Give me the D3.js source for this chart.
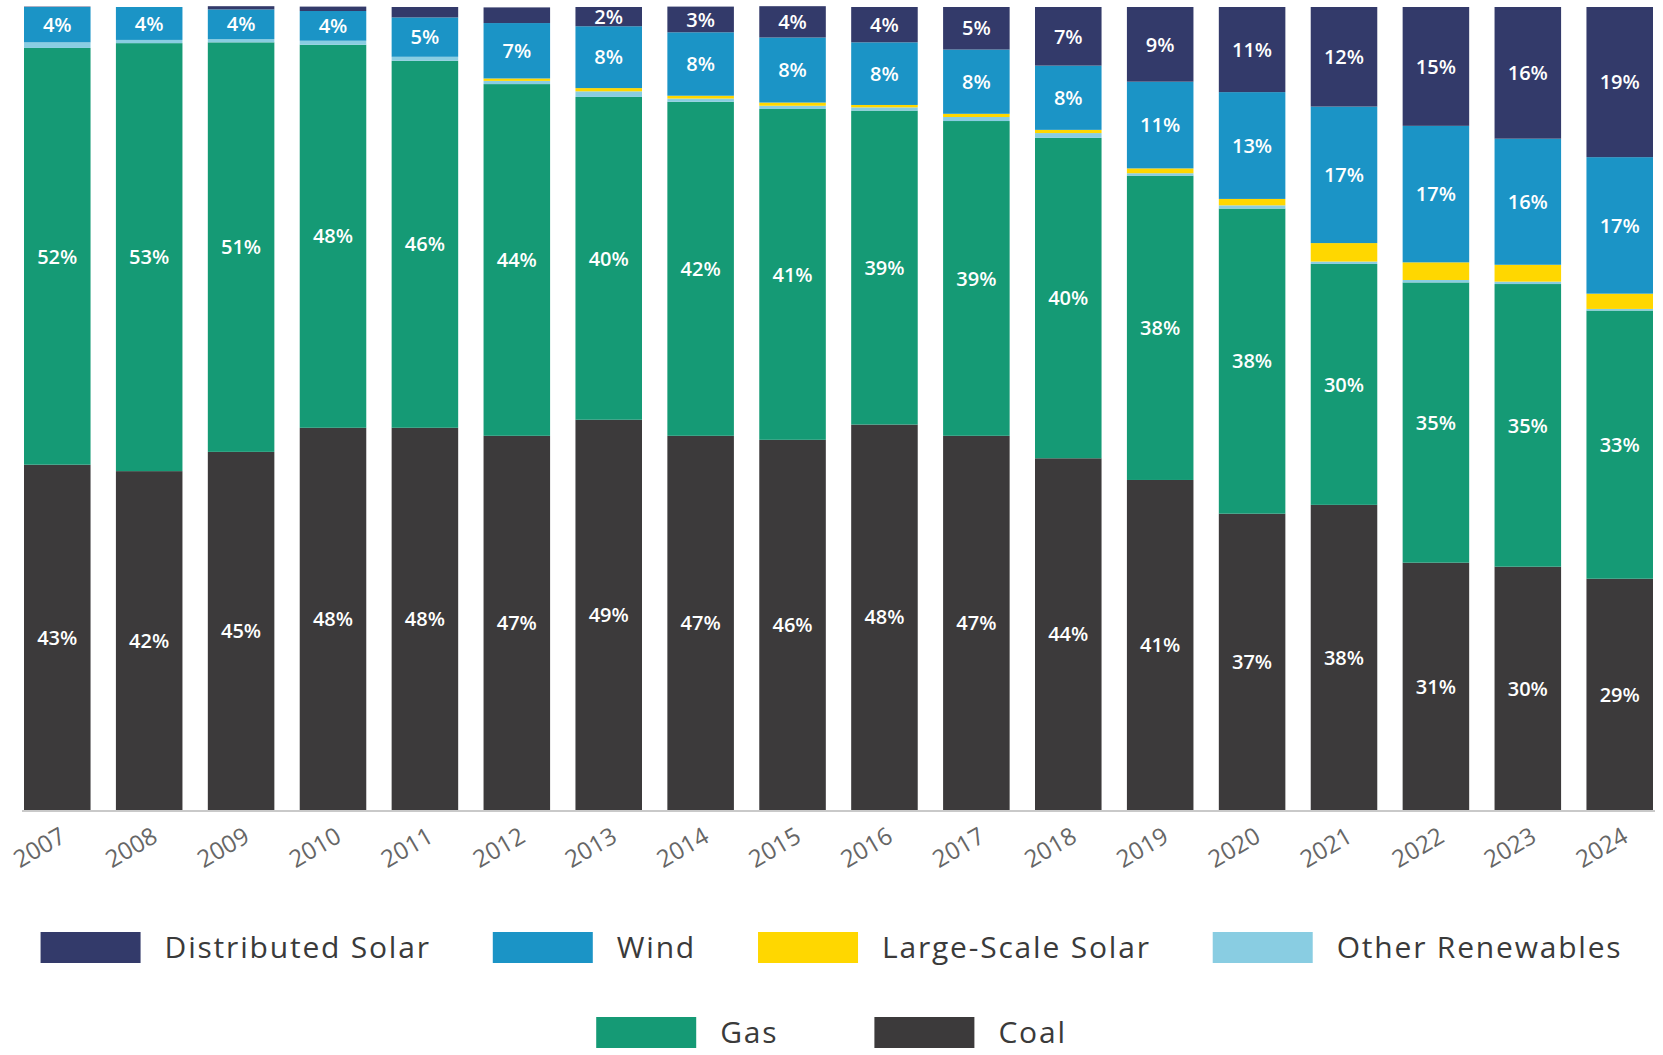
<!DOCTYPE html>
<html>
<head>
<meta charset="utf-8">
<script src="https://cdn.jsdelivr.net/npm/d3@7"></script>
<style>
  body { margin: 0; background: #fff; }
  text { font-family: "Open Sans", sans-serif; }
</style>
</head>
<body>
<svg id="chart"></svg>
<script>
// data (share of generation, %)
var years = ["2007","2008","2009","2010","2011","2012","2013","2014","2015","2016","2017","2018","2019","2020","2021","2022","2023","2024"];
var distributedSolar = [0.05, 0, 0.4, 0.55, 1.3, 1.95, 2.4, 3.2, 3.9, 4.4, 5.3, 7.3, 9.3, 10.6, 12.4, 14.8, 16.4, 18.7];
var wind             = [4.4, 4.1, 3.7, 3.7, 4.9, 6.9, 7.7, 7.9, 8.1, 7.8, 8.0, 8.0, 10.8, 13.3, 17.0, 17.0, 15.7, 17.0];
var largeScaleSolar  = [0, 0, 0, 0, 0, 0.3, 0.4, 0.35, 0.4, 0.3, 0.4, 0.4, 0.6, 0.8, 2.3, 2.2, 2.1, 1.9];
var otherRenewables  = [0.7, 0.4, 0.4, 0.5, 0.5, 0.4, 0.7, 0.4, 0.4, 0.4, 0.5, 0.6, 0.3, 0.4, 0.3, 0.3, 0.3, 0.2];
var gas              = [51.9, 53.3, 51.0, 47.7, 45.7, 43.8, 40.2, 41.6, 41.2, 39.1, 39.2, 39.9, 37.9, 38.0, 30.0, 34.9, 35.2, 33.4];
var coal             = [43.0, 42.2, 44.6, 47.6, 47.6, 46.6, 48.6, 46.6, 46.1, 48.0, 46.6, 43.8, 41.1, 36.9, 38.0, 30.8, 30.3, 28.8];

var seriesNames = ["Distributed Solar", "Wind", "Large-Scale Solar", "Other Renewables", "Gas", "Coal"];
var seriesKeys = ["coal", "gas", "other", "lss", "wind", "ds"]; // bottom to top
var colors = { ds: "#333a6a", wind: "#1b94c6", lss: "#ffd700", other: "#89cde2", gas: "#159a75", coal: "#3c3a3b" };
var labelled = { ds: true, wind: true, gas: true, coal: true };

var rows = years.map(function(y, i) {
  return { year: y, ds: distributedSolar[i], wind: wind[i], lss: largeScaleSolar[i], other: otherRenewables[i], gas: gas[i], coal: coal[i] };
});

var width = 1663, height = 1055;
var svg = d3.select("#chart").attr("width", width).attr("height", height);

var x = d3.scaleBand().domain(years).range([24, 1653]).paddingInner(0.276).paddingOuter(0);
var y = d3.scaleLinear().domain([0, 100]).range([810, 7]);

var stacked = d3.stack().keys(seriesKeys)(rows);

var layers = svg.selectAll("g.layer")
  .data(stacked)
  .enter()
  .append("g")
  .attr("class", "layer")
  .attr("fill", function(d) { return colors[d.key]; });

layers.selectAll("rect")
  .data(function(d) { return d; })
  .enter()
  .append("rect")
  .attr("x", function(d) { return x(d.data.year); })
  .attr("y", function(d) { return y(d[1]); })
  .attr("width", x.bandwidth())
  .attr("height", function(d) { return y(d[0]) - y(d[1]); });

// percentage labels
stacked.forEach(function(layer) {
  if (!labelled[layer.key]) return;
  svg.append("g").selectAll("text")
    .data(layer.filter(function(d) { return d.data[layer.key] >= 2; }))
    .enter()
    .append("text")
    .attr("x", function(d) { return x(d.data.year) + x.bandwidth() / 2; })
    .attr("y", function(d) { return (y(d[0]) + y(d[1])) / 2; })
    .attr("dy", "0.36em")
    .attr("text-anchor", "middle")
    .attr("fill", "#fff")
    .attr("font-size", 20)
    .attr("font-weight", 600)
    .text(function(d) { return Math.round(d.data[layer.key]) + "%"; });
});

// x axis
var axis = svg.append("g")
  .attr("transform", "translate(0,810)")
  .call(d3.axisBottom(x).tickSize(0).tickPadding(0));
axis.select(".domain").attr("stroke", "#c9c9c9").attr("stroke-width", 2).attr("d", "M22,1H1655");
axis.selectAll(".tick text")
  .attr("font-family", "Open Sans, sans-serif")
  .attr("font-size", 24)
  .attr("fill", "#666")
  .attr("text-anchor", "end")
  .attr("dy", 0)
  .attr("y", 0)
  .attr("transform", "translate(10,31) rotate(-30)");

// legend
var legendRows = [[0, 1, 2, 3], [4, 5]];
var legendKeys = ["ds", "wind", "lss", "other", "gas", "coal"];
var rowY = [932, 1017];
var rowGap = [62, 96];
legendRows.forEach(function(r, ri) {
  var g = svg.append("g");
  var cursor = 0;
  r.forEach(function(idx, j) {
    var item = g.append("g").attr("transform", "translate(" + cursor + "," + rowY[ri] + ")");
    item.append("rect").attr("width", 100).attr("height", 31).attr("fill", colors[legendKeys[idx]]);
    var t = item.append("text")
      .attr("x", 124)
      .attr("y", 15.5)
      .attr("dy", "0.36em")
      .attr("font-size", 30)
      .attr("letter-spacing", 1.8)
      .attr("fill", "#3a3a3a")
      .text(seriesNames[idx]);
    cursor += 124 + t.node().getComputedTextLength() + rowGap[ri];
  });
  var total = cursor - rowGap[ri];
  g.attr("transform", "translate(" + (width / 2 - total / 2) + ",0)");
});
</script>
</body>
</html>
